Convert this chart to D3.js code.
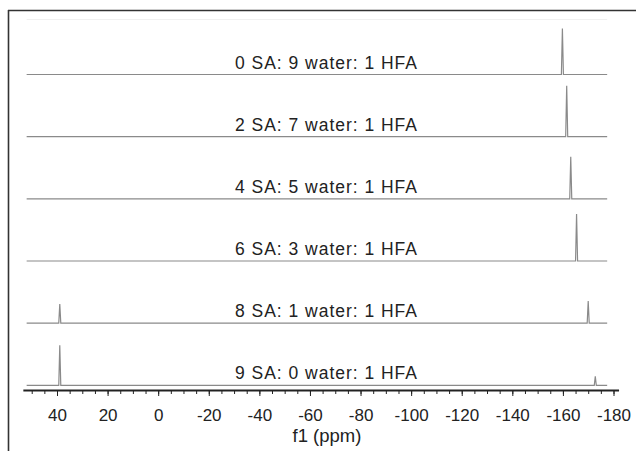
<!DOCTYPE html>
<html lang="en">
<head>
    <meta charset="UTF-8">
    <title>19F NMR stacked spectra</title>
    <script src="https://d3js.org/d3.v7.min.js"></script>
    <style>
        body { margin: 0; background: #fff; }
        svg { display: block; font-family: "Liberation Sans", Arial, Helvetica, sans-serif; }
        .trace { fill: none; stroke: #8a8a8a; stroke-width: 1.2; }
        .label { fill: #222; font-size: 17.5px; }
        .axis text { fill: #222; font-size: 17px; }
        .axis line, .axis path { stroke: #222; }
    </style>
</head>
<body>
<svg id="chart" width="636" height="451"></svg>
<script>
    // sample labels, top to bottom
    const labels = [
        "0 SA: 9 water: 1 HFA",
        "2 SA: 7 water: 1 HFA",
        "4 SA: 5 water: 1 HFA",
        "6 SA: 3 water: 1 HFA",
        "8 SA: 1 water: 1 HFA",
        "9 SA: 0 water: 1 HFA"
    ];
    // HFA peak (ppm) and its height, per spectrum
    const hfaShift = [-159.8, -161.5, -163.1, -165.4, -170.0, -172.8];
    const hfaHeight = [46, 51, 42, 47, 22, 9];
    // second peak near +39 ppm (only in the SA-rich samples)
    const saShift = [null, null, null, null, 38.9, 38.9];
    const saHeight = [0, 0, 0, 0, 19, 40];

    const majorTicks = [40, 20, 0, -20, -40, -60, -80, -100, -120, -140, -160, -180];
    const minorTicks = d3.range(50, -181, -5);
    const traceRange = [52, -177.5];

    const svg = d3.select("#chart");

    const x = d3.scaleLinear().domain([40, -180]).range([57, 613.5]);
    const row = d3.scalePoint().domain(labels).range([74.5, 385.3]);
    const h = d3.scaleLinear().domain([0, 100]).range([0, 100]);
    const axisY = 390;

    // frame
    svg.append("line").attr("x1", 8).attr("x2", 636).attr("y1", 10.5).attr("y2", 10.5)
        .attr("stroke", "#333").attr("stroke-width", 1.6);
    svg.append("line").attr("x1", 8.5).attr("x2", 8.5).attr("y1", 10).attr("y2", 451)
        .attr("stroke", "#333").attr("stroke-width", 1.6);
    svg.append("line").attr("x1", x(traceRange[0])).attr("x2", x(traceRange[1]))
        .attr("y1", 19.5).attr("y2", 19.5).attr("stroke", "#f0f0f0");

    const half = 0.4;
    labels.forEach((lab, i) => {
        let pts = [[traceRange[0], 0]];
        let peaks = [];
        if (saShift[i] !== null) peaks.push([saShift[i], saHeight[i]]);
        peaks.push([hfaShift[i], hfaHeight[i]]);
        peaks.forEach(p => {
            pts.push([p[0] + half, 0], [p[0], p[1]], [p[0] - half, 0]);
        });
        pts.push([traceRange[1], 0]);

        const base = row(lab);
        const line = d3.line()
            .x(d => x(d[0]))
            .y(d => base - h(d[1]));
        svg.append("path").attr("class", "trace").attr("d", line(pts));

        svg.append("text").attr("class", "label")
            .attr("x", 326).attr("y", base - 6)
            .attr("text-anchor", "middle")
            .attr("textLength", 182).attr("lengthAdjust", "spacing")
            .text(lab);
    });

    // axis: extended domain so the line runs past the end ticks
    const xAxisScale = x.copy().domain([53.5, -182]).range([x(53.5), x(-182)]);

    svg.append("g").attr("class", "axis")
        .attr("transform", `translate(0, ${axisY})`)
        .call(d3.axisBottom(xAxisScale).tickValues(minorTicks).tickSize(4).tickSizeOuter(0).tickFormat(""))
        .call(g => g.select(".domain").attr("stroke-width", 1.8));

    svg.append("g").attr("class", "axis")
        .attr("transform", `translate(0, ${axisY})`)
        .call(d3.axisBottom(xAxisScale).tickValues(majorTicks).tickSize(6).tickSizeOuter(0)
            .tickPadding(13).tickFormat(d => String(d)))
        .call(g => g.select(".domain").remove())
        .call(g => g.selectAll("text").attr("font-family", null));

    svg.append("text").attr("class", "label")
        .attr("x", 327).attr("y", 442)
        .attr("text-anchor", "middle")
        .style("font-size", "18.5px")
        .text("f1 (ppm)");
</script>
</body>
</html>
